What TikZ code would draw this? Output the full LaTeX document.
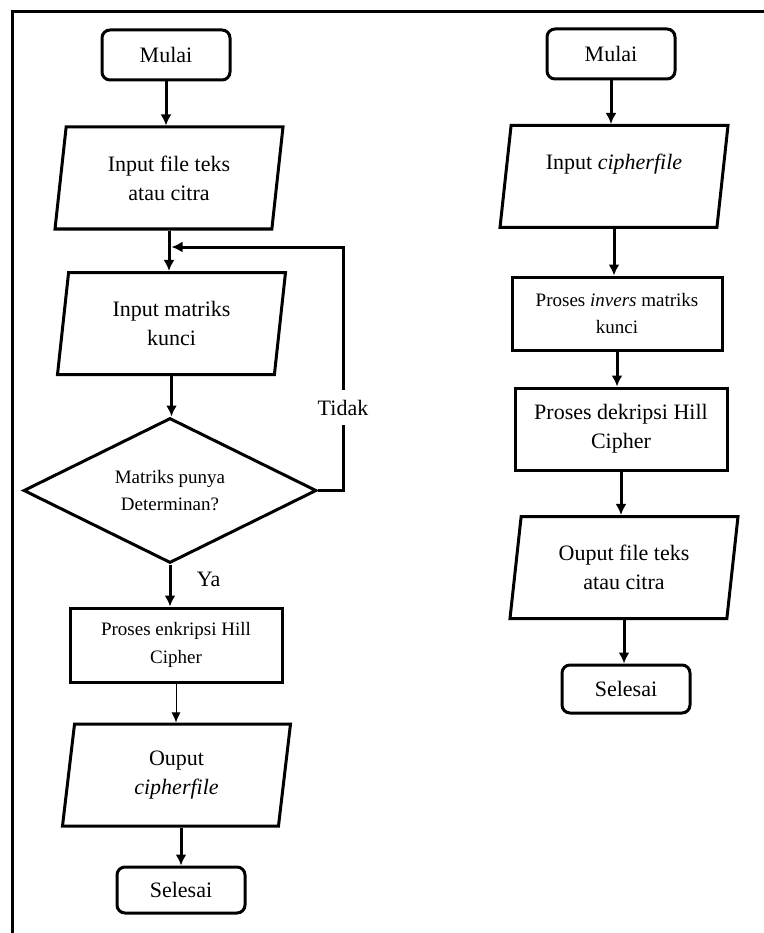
\documentclass[tikz,border=0pt]{standalone}
\usepackage{fontspec}
\setmainfont{Liberation Serif}
\usepackage{tikz}
\usetikzlibrary{arrows.meta,shapes.geometric,calc,positioning}

\tikzset{
  terminal/.style={draw,line width=3pt,rounded corners=8pt,minimum width=128pt,minimum height=50pt,inner sep=0pt},
  io/.style={draw,line width=3pt,trapezium,trapezium left angle=76,trapezium right angle=104,trapezium stretches body,minimum width=228pt,minimum height=102pt,align=center,inner sep=0pt},
  proc/.style={draw,line width=3pt,minimum width=212pt,align=center,inner sep=0pt},
  decision/.style={draw,line width=3pt,diamond,shape aspect=2,minimum width=293pt,minimum height=145pt,align=center,inner sep=0pt},
  smalltext/.style={font=\fontsize{19}{27.5}\selectfont},
  flow/.style={line width=3pt,-{Latex[length=11pt,width=11pt]}},
  thinflow/.style={line width=1pt,-{Latex[length=10pt,width=9pt]}},
}

\begin{document}
\begin{tikzpicture}[x=1pt,y=-1pt,font=\fontsize{22}{29}\selectfont]
\useasboundingbox (0,0) rectangle (763,933);
% frame
\draw[line width=3pt] (12,935) -- (12,12) -- (765,12);

% enkripsi
\node[terminal] (mulaiA) at (166,55) {Mulai};
\node[io] (fileA) at (169,178) {Input file teks\\atau citra};
\node[io] (kunciA) at (171.5,323.5) {Input matriks\\kunci};
\node[decision,smalltext] (detA) at (170,490.5) {Matriks punya\\Determinan?};
\node[proc,smalltext,minimum height=74pt] (enkA) at (176,645) {Proses enkripsi Hill\\Cipher};
\node[io] (outA) at (176.5,775) {Ouput\\\textit{cipherfile}};
\node[terminal,minimum height=46pt] (selA) at (181,890) {Selesai};
\coordinate (back) at (343,247);

\draw[flow] (mulaiA.south) -- (mulaiA.south |- fileA.north);
\draw[flow] (fileA.south) -- (fileA.south |- kunciA.north);
\draw[flow] (kunciA.south) -- (kunciA.south |- detA.north);
\draw[flow] (detA.east) -| node[pos=0.67,fill=white,inner xsep=2pt,inner ysep=10pt]{Tidak} (back) -- (back -| kunciA.north);
\draw[flow] (detA.south) -- node[pos=0.35,right=22pt]{Ya} (detA.south |- enkA.north);
\draw[thinflow] (enkA.south) -- (enkA.south |- outA.north);
\draw[flow] (selA.north |- outA.south) -- (selA.north);

% dekripsi
\node[terminal] (mulaiB) at (611,54) {Mulai};
\node[io] (fileB) at (614,176.5) {Input \textit{cipherfile}\\~};
\node[proc,smalltext,minimum width=210pt,minimum height=73pt] (invB) at (617,313.5) {Proses \textit{invers} matriks\\kunci};
\node[proc,minimum height=82pt] (dekB) at (621,429) {Proses dekripsi Hill\\Cipher};
\node[io] (outB) at (624,567.5) {Ouput file teks\\atau citra};
\node[terminal,minimum height=48pt] (selB) at (626,689) {Selesai};

\draw[flow] (mulaiB.south) -- (mulaiB.south |- fileB.north);
\draw[flow] (fileB.south) -- (fileB.south |- invB.north);
\draw[flow] (invB.south) -- (invB.south |- dekB.north);
\draw[flow] (dekB.south) -- (dekB.south |- outB.north);
\draw[flow] (outB.south) -- (outB.south |- selB.north);
\end{tikzpicture}
\end{document}
